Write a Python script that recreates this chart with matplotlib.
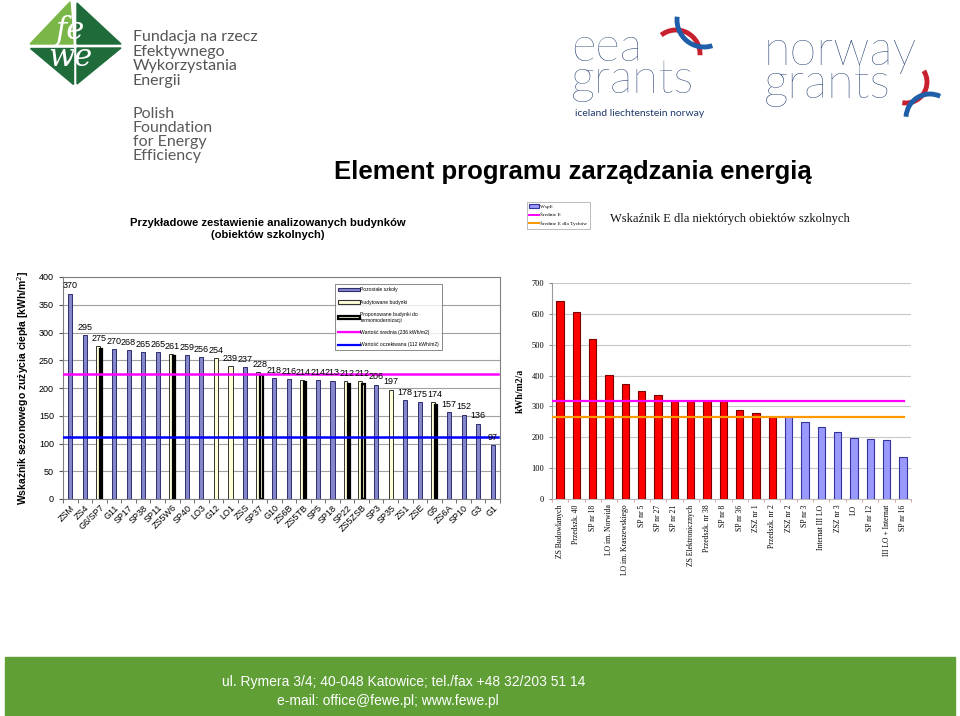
import matplotlib
matplotlib.use('Agg')
import matplotlib.pyplot as plt
import numpy as np
from matplotlib.patches import Patch, Polygon, Arc, Rectangle
from matplotlib.lines import Line2D

# ---------------- data ----------------
left_categories = ['ZSM', 'ZS4', 'G6/SP7', 'G11', 'SP17', 'SP38', 'SP11', 'ZS5W6', 'SP40', 'LO3',
                   'G12', 'LO1', 'ZSS', 'SP37', 'G10', 'ZS6B', 'ZS5TB', 'SP5', 'SP18', 'SP22',
                   'ZS5ZSB', 'SP3', 'SP35', 'ZS1', 'ZSE', 'G5', 'ZS6A', 'SP10', 'G3', 'G1']
left_values = [370, 295, 275, 270, 268, 265, 265, 261, 259, 256,
               254, 239, 237, 228, 218, 216, 214, 214, 213, 212,
               212, 206, 197, 178, 175, 174, 157, 152, 136, 97]
# 'P' = Pozostałe szkoły, 'A' = Audytowane, 'AR' = Audytowane + Proponowane do termomodernizacji
left_groups = ['P', 'P', 'AR', 'P', 'P', 'P', 'P', 'AR', 'P', 'P',
               'A', 'A', 'P', 'AR', 'P', 'P', 'AR', 'P', 'P', 'AR',
               'AR', 'P', 'A', 'P', 'P', 'AR', 'P', 'P', 'P', 'P']
left_avg = 226
left_expected = 112
left_legend = ['Pozostałe szkoły', 'Audytowane budynki',
               'Proponowane budynki do\ntermomodernizacji',
               'Wartość średnia (236 kWh/m2)', 'Wartość oczekiwana (112 kWh/m2)']

right_categories = ['ZS Budowlanych', 'Przedszk. 40', 'SP nr 18', 'LO im. Norwida',
                    'LO im. Kraszewskiego', 'SP nr 5', 'SP nr 27', 'SP nr 21',
                    'ZS Elektronicznych', 'Przedszk. nr 38', 'SP nr 8', 'SP nr 36',
                    'ZSZ nr 1', 'Przedszk. nr 2', 'ZSZ nr 2', 'SP nr 3', 'Internat III LO',
                    'ZSZ nr 3', 'LO', 'SP nr 12', 'III LO + Internat', 'SP nr 16']
right_values = [641, 606, 517, 402, 373, 351, 337, 319, 319, 319, 319,
                288, 280, 265, 267, 250, 234, 217, 197, 195, 190, 136]
right_above_avg = [True] * 14 + [False] * 8
right_avg = 319
right_avg_tychy = 267
right_legend = ['WspE', 'Średnie E', 'Średnie E dla Tychów']

W, H = 960, 716
fig = plt.figure(figsize=(9.6, 7.16), dpi=100)

# ---------------- overlay (logos, titles, footer) ----------------
ov = fig.add_axes([0, 0, 1, 1])
ov.set_xlim(0, W)
ov.set_ylim(H, 0)
ov.axis('off')
ov.patch.set_visible(False)

# FEWE logo
light_g = '#7ab648'
dark_g = '#1f6b3a'
ov.add_patch(Polygon([(30, 44), (70, 2), (73, 44)], closed=True, color=light_g))
ov.add_patch(Polygon([(77, 3), (121, 44), (77, 44)], closed=True, color=dark_g))
ov.add_patch(Polygon([(30, 48), (73, 48), (73, 84)], closed=True, color=dark_g))
ov.add_patch(Polygon([(77, 48), (121, 48), (77, 84)], closed=True, color=dark_g))
ov.text(70, 44, 'fe\nwe', color='white', fontsize=22, style='italic', family='DejaVu Serif',
        ha='center', va='center', linespacing=0.8)
ov.text(133, 59, 'Fundacja na rzecz\nEfektywnego\nWykorzystania\nEnergii', color='#555555',
        fontsize=11.5, family='Lato', ha='left', va='center', linespacing=1.04)
ov.text(133, 135, 'Polish\nFoundation\nfor Energy\nEfficiency', color='#5a5a5a',
        fontsize=11.5, family='Lato', ha='left', va='center', linespacing=1.0)

# EEA grants logo
navy = '#1d3a6d'
red_l = '#c8202f'
blue_l = '#1f5ea8'
ov.text(571, 93, 'eea\ngrants', color=navy, fontsize=34, family='Lato', fontweight='light',
        ha='left', va='baseline', linespacing=0.68)
ov.text(575, 113, 'iceland liechtenstein norway', color=navy, fontsize=7.5, family='Lato',
        ha='left', va='center')
ov.add_patch(Arc((676, 54), 48, 48, theta1=232, theta2=363, color=red_l, lw=3.5))
ov.add_patch(Arc((704, 20), 54, 54, theta1=72, theta2=187, color=blue_l, lw=3.5))

# Norway grants logo
ov.text(764, 98, 'norway\ngrants', color=navy, fontsize=35, family='Lato', fontweight='light',
        ha='left', va='baseline', linespacing=0.68)
ov.add_patch(Arc((906, 82), 42, 42, theta1=-32, theta2=100, color=red_l, lw=3.5))
ov.add_patch(Arc((930, 118), 48, 48, theta1=183, theta2=295, color=blue_l, lw=3.5))

# Titles
ov.text(573, 172, 'Element programu zarządzania energią', ha='center', va='center',
        fontsize=18.5, fontweight='bold', family='Liberation Sans')
ov.text(268, 229, 'Przykładowe zestawienie analizowanych budynków\n(obiektów szkolnych)',
        ha='center', va='center', fontsize=8.1, fontweight='bold', family='Liberation Sans',
        linespacing=1.2)
ov.text(610, 219, 'Wskaźnik E dla niektórych obiektów szkolnych', ha='left', va='center',
        fontsize=9, family='Liberation Serif', color='#111111')

# Footer
ov.add_patch(Rectangle((5, 657), 950, 59, color='#5f9f36'))
ov.text(222, 682, 'ul. Rymera 3/4; 40-048 Katowice; tel./fax +48 32/203 51 14', color='white',
        fontsize=10, family='Liberation Sans', ha='left', va='center')
ov.text(277, 701, 'e-mail: office@fewe.pl; www.fewe.pl', color='white',
        fontsize=10, family='Liberation Sans', ha='left', va='center')

# ---------------- left chart ----------------
axL = fig.add_axes([63 / W, 1 - 499 / H, 437 / W, 222 / H])
n = len(left_values)
x = np.arange(n)
blue_face = '#8585cc'
blue_edge = '#2e2e70'
cream = '#ffffd8'
for i, (v, g) in enumerate(zip(left_values, left_groups)):
    if g == 'P':
        axL.bar(i, v, width=0.28, color=blue_face, edgecolor=blue_edge, lw=0.7, zorder=3)
    elif g == 'A':
        axL.bar(i, v, width=0.28, color=cream, edgecolor='#333333', lw=0.7, zorder=3)
    else:
        axL.bar(i - 0.1, v, width=0.24, color=cream, edgecolor='#333333', lw=0.7, zorder=3)
        axL.bar(i + 0.12, v - 4, width=0.16, color=cream, edgecolor='black', lw=1.6, zorder=3)
    axL.text(i, v + 6, str(v), ha='center', va='bottom', fontsize=6.5,
             family='Liberation Sans', zorder=5)
axL.axhline(left_avg, xmin=0.0, xmax=0.995, color='#ff00ff', lw=1.8, zorder=4)
axL.axhline(left_expected, xmin=0.0, xmax=0.995, color='#0000ff', lw=1.8, zorder=4)
axL.set_xlim(-0.5, n - 0.5)
axL.set_ylim(0, 400)
axL.set_yticks(np.arange(0, 401, 50))
axL.yaxis.grid(True, color='#a0a0a0', lw=0.8, zorder=0)
axL.set_axisbelow(True)
axL.set_xticks(x)
axL.set_xticklabels(left_categories, rotation=45, ha='right', va='top',
                    rotation_mode='anchor', fontsize=6.5, family='Liberation Sans')
axL.set_xticks(np.arange(-0.5, n, 1), minor=True)
axL.tick_params(axis='x', which='major', length=0, pad=3)
axL.tick_params(axis='x', which='minor', length=3, color='#555555')
axL.tick_params(axis='y', length=3, labelsize=6.5, color='#555555')
for lab in axL.get_yticklabels():
    lab.set_family('Liberation Sans')
for s in axL.spines.values():
    s.set_color('#808080')
    s.set_linewidth(0.8)
axL.set_ylabel('Wskaźnik sezonowego zużycia ciepła [kWh/m$^2$]', fontsize=7.5,
               fontweight='bold', family='Liberation Sans', labelpad=6)

handlesL = [Patch(facecolor=blue_face, edgecolor=blue_edge, lw=0.8),
            Patch(facecolor=cream, edgecolor='#333333', lw=0.8),
            Patch(facecolor=cream, edgecolor='black', lw=1.6),
            Line2D([], [], color='#ff00ff', lw=1.6),
            Line2D([], [], color='#0000ff', lw=1.6)]
legL = axL.legend(handlesL, left_legend, loc='upper left',
                  bbox_to_anchor=(332 / W, 1 - 282 / H), bbox_transform=fig.transFigure,
                  frameon=True, fancybox=False, handlelength=4.5,
                  handleheight=0.6, labelspacing=1.45, borderpad=0.6, handletextpad=0.1,
                  prop={'family': 'Liberation Sans', 'size': 3.6})
legL.get_frame().set_edgecolor('#555555')
legL.get_frame().set_linewidth(0.6)
legL.set_zorder(10)

# ---------------- right chart ----------------
axR = fig.add_axes([552 / W, 1 - 499 / H, 359 / W, 216 / H])
m = len(right_values)
xr = np.arange(m)
for i, (v, hi) in enumerate(zip(right_values, right_above_avg)):
    if hi:
        axR.bar(i, v, width=0.45, color='#ff0000', edgecolor='#7a0000', lw=0.8, zorder=3)
    else:
        axR.bar(i, v, width=0.45, color='#9999ff', edgecolor='#333399', lw=0.8, zorder=3)
axR.axhline(right_avg, xmin=0.0, xmax=0.98, color='#ff00ff', lw=1.6, zorder=4)
axR.axhline(right_avg_tychy, xmin=0.0, xmax=0.98, color='#ff9900', lw=1.6, zorder=4)
axR.set_xlim(-0.5, m - 0.5)
axR.set_ylim(0, 700)
axR.set_yticks(np.arange(0, 701, 100))
axR.yaxis.grid(True, color='#c8c8c8', lw=0.8, zorder=0)
axR.set_axisbelow(True)
axR.set_xticks(xr)
axR.set_xticklabels(right_categories, rotation=90, ha='center', va='top',
                    fontsize=5.5, family='Liberation Serif')
axR.set_xticks(np.arange(-0.5, m, 1), minor=True)
axR.tick_params(axis='x', which='major', length=0, pad=4)
axR.tick_params(axis='x', which='minor', length=2, color='#e09090')
axR.tick_params(axis='y', length=2, labelsize=6, color='#888888')
for lab in axR.get_yticklabels():
    lab.set_family('Liberation Serif')
axR.spines['top'].set_visible(False)
axR.spines['right'].set_visible(False)
axR.spines['left'].set_color('#999999')
axR.spines['bottom'].set_color('#bbbbbb')
axR.set_ylabel('kWh/m2/a', fontsize=7, fontweight='bold', family='Liberation Serif',
               labelpad=5)

handlesR = [Patch(facecolor='#9999ff', edgecolor='#333399', lw=0.8),
            Line2D([], [], color='#ff00ff', lw=1.4),
            Line2D([], [], color='#ff9900', lw=1.4)]
legR = axR.legend(handlesR, right_legend, loc='upper left',
                  bbox_to_anchor=(524 / W, 1 - 199 / H), bbox_transform=fig.transFigure,
                  frameon=True, fancybox=False, handlelength=1.8, handleheight=0.6,
                  labelspacing=0.75, borderpad=0.5, handletextpad=0.3,
                  prop={'family': 'Liberation Serif', 'size': 3.8})
legR.get_frame().set_edgecolor('#888888')
legR.get_frame().set_linewidth(0.5)

fig.savefig('out.png', dpi=100)
